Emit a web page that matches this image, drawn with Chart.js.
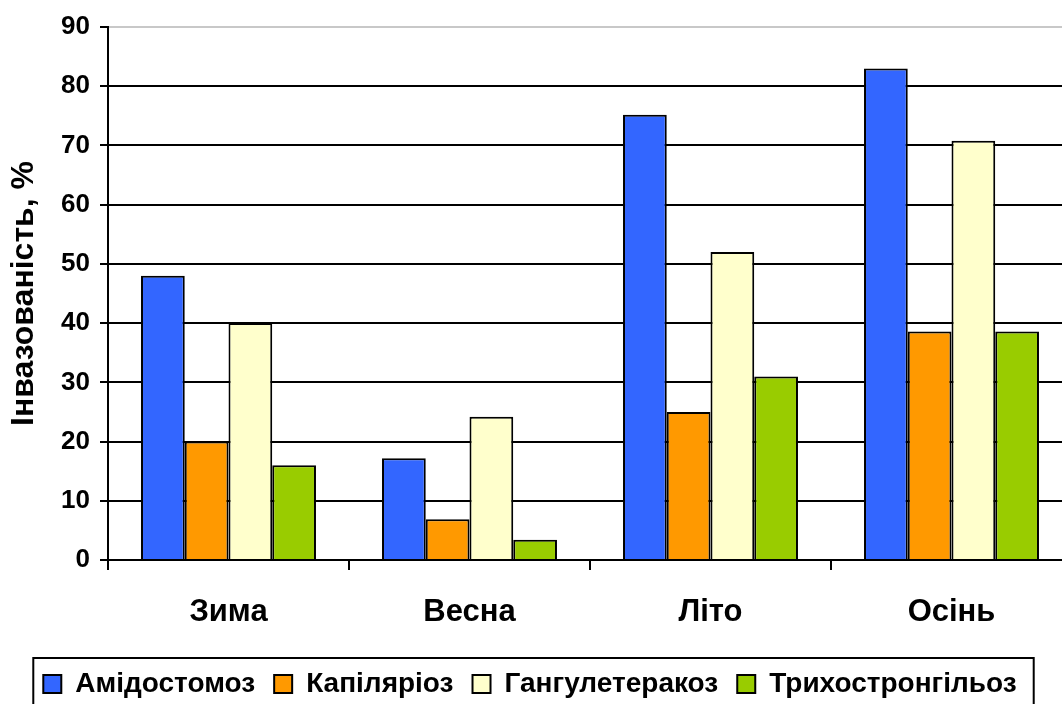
<!DOCTYPE html>
<html>
<head>
<meta charset="utf-8">
<script src="https://cdn.jsdelivr.net/npm/chart.js@4/dist/chart.umd.min.js"></script>
<style>
  body { margin: 0; overflow: hidden; background: #fff; }
  #wrap { width: 1090px; height: 730px; }
</style>
</head>
<body>
<div id="wrap"><canvas id="my-chart" width="1090" height="730"></canvas></div>
<script>
// Data
var seasons = ['Зима', 'Весна', 'Літо', 'Осінь'];
var seriesNames = ['Амідостомоз', 'Капіляріоз', 'Гангулетеракоз', 'Трихостронгільоз'];
var amidostomoz = [48, 17.2, 75.2, 83];
var kapiliarioz = [20, 6.9, 25, 38.6];
var hanhuleterakoz = [40, 24.2, 52, 70.8];
var trykhostronhiloz = [16, 3.4, 31, 38.6];
var barColors = ['#3366ff', '#ff9900', '#ffffcc', '#99cc00'];
var yTitle = 'Інвазованість, %';

var fontFamily = '"Liberation Sans", Arial, sans-serif';
var allSeries = [amidostomoz, kapiliarioz, hanhuleterakoz, trykhostronhiloz];

var datasets = [];
for (var i = 0; i < allSeries.length; i++) {
  datasets.push({
    label: seriesNames[i],
    data: allSeries[i],
    backgroundColor: barColors[i],
    borderColor: '#000',
    borderWidth: 2,
    barPercentage: 1,
    categoryPercentage: 0.726
  });
}

// box round the legend, like the old office charts
var legendBox = {
  id: 'legendBox',
  afterDraw: function (chart) {
    var lg = chart.legend;
    var boxes = lg.legendHitBoxes;
    if (!boxes || !boxes.length) return;
    var first = boxes[0];
    var last = boxes[boxes.length - 1];
    var ctx = chart.ctx;
    var left = first.left - 10;
    var right = last.left + last.width + 17;
    var top = first.top - 12;
    ctx.save();
    ctx.strokeStyle = '#000';
    ctx.lineWidth = 2;
    ctx.strokeRect(left, top, right - left, 80);
    ctx.restore();
  }
};

var myChart = new Chart(document.getElementById('my-chart').getContext('2d'), {
  type: 'bar',
  data: { labels: seasons, datasets: datasets },
  plugins: [legendBox],
  options: {
    responsive: false,
    animation: false,
    layout: { padding: { top: 27, left: -12, right: 18, bottom: 22 } },
    plugins: {
      tooltip: { enabled: false },
      legend: {
        position: 'bottom',
        labels: {
          color: '#000',
          font: { family: fontFamily, size: 28, weight: 'bold' },
          boxWidth: 18,
          boxHeight: 18,
          padding: 19
        }
      }
    },
    scales: {
      x: {
        afterFit: function (scale) { scale.height = 91; },
        grid: {
          offset: true,
          drawOnChartArea: false,
          color: '#000',
          lineWidth: 2,
          tickLength: 10
        },
        border: { color: '#000', width: 2 },
        ticks: {
          color: '#000',
          padding: 24,
          font: { family: fontFamily, size: 31, weight: 'bold' }
        }
      },
      y: {
        min: 0,
        max: 90,
        afterFit: function (scale) { scale.width = 120; },
        grid: {
          color: function (c) { return c.tick && c.tick.value === 90 ? '#c8c8c8' : '#000'; },
          tickColor: '#000',
          lineWidth: 2,
          tickLength: 8
        },
        border: { color: '#000', width: 2 },
        ticks: {
          stepSize: 10,
          color: '#000',
          padding: 10,
          font: { family: fontFamily, size: 26, weight: 'bold' }
        },
        title: {
          display: true,
          text: yTitle,
          color: '#000',
          padding: 17,
          font: { family: fontFamily, size: 32, weight: 'bold' }
        }
      }
    }
  }
});
</script>
</body>
</html>
